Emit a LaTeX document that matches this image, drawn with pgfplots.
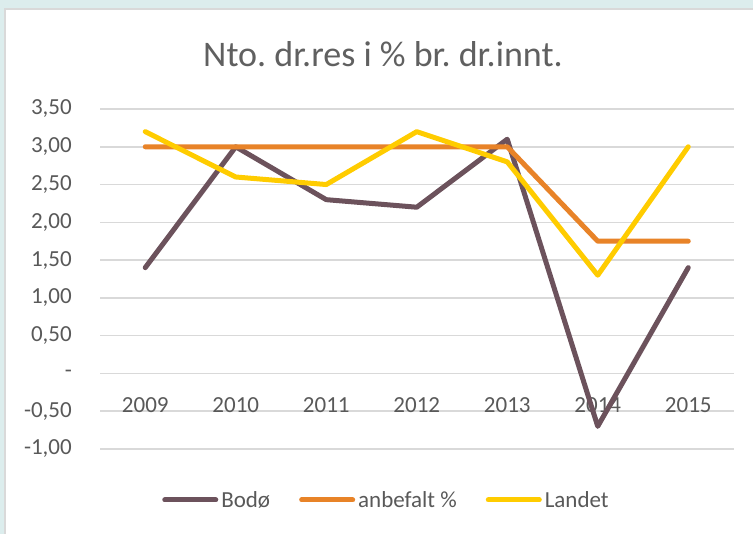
\documentclass[border=0pt]{standalone}
\usepackage{fontspec}
\setmainfont{Carlito}
\usepackage{pgfplots}
\pgfplotsset{compat=1.18}
\definecolor{bodo}{RGB}{108,82,92}
\definecolor{anb}{RGB}{232,131,40}
\definecolor{land}{RGB}{255,204,0}
\definecolor{gridc}{RGB}{217,217,217}
\definecolor{txt}{RGB}{89,89,89}
\definecolor{titc}{RGB}{96,96,96}
\definecolor{outer}{RGB}{220,237,237}
\frenchspacing
\begin{document}
\begin{tikzpicture}
\fill[outer] (0,0) rectangle (753pt,534pt);
\fill[gridc] (4pt,0) rectangle (753pt,526pt);
\fill[white] (6pt,0) rectangle (753pt,524pt);
\begin{axis}[
  scale only axis,
  width=633.5pt, height=340pt,
  at={(100pt,85pt)}, anchor=south west,
  xmin=-0.5, xmax=6.5,
  ymin=-1, ymax=3.5,
  xtick={0,1,2,3,4,5,6},
  xticklabels={2009,2010,2011,2012,2013,2014,2015},
  ytick={-1,-0.5,0,0.5,1,1.5,2,2.5,3,3.5},
  yticklabels={{-1,00},{-0,50},{-\hspace{11pt}},{0,50},{1,00},{1,50},{2,00},{2,50},{3,00},{3,50}},
  axis line style={draw=none},
  tick style={draw=none},
  major tick length=0pt,
  ymajorgrids,
  grid style={gridc, line width=1.5pt},
  xticklabel style={anchor=center, inner sep=0pt, yshift=44pt, font=\fontsize{23}{27}\selectfont, text=txt},
  yticklabel style={anchor=east, inner sep=0pt, xshift=-28pt, font=\fontsize{23}{27}\selectfont, text=txt},
  title={Nto. dr.res i \% br. dr.innt.},
  title style={at={(0.4467,1.144)}, anchor=center, font=\fontsize{36}{40}\selectfont, text=titc, inner sep=0pt},
  clip=false,
  legend columns=3,
  legend style={at={(0.453,-0.15)}, anchor=center, draw=none, fill=none,
    font=\fontsize{23}{27}\selectfont, text=txt, inner sep=0pt, row sep=0pt,
    /tikz/every even column/.append style={column sep=26pt},
    nodes={inner xsep=3pt, inner ysep=0pt}},
  legend image code/.code={\draw[#1] (0pt,0pt) -- (51pt,0pt);},
  every axis plot/.append style={line width=5pt, line cap=round, line join=round},
]
\addplot[bodo] coordinates {(0,1.40) (1,3.00) (2,2.30) (3,2.20) (4,3.10) (5,-0.70) (6,1.40)};
\addlegendentry{Bodø}
\addplot[anb] coordinates {(0,3.00) (1,3.00) (2,3.00) (3,3.00) (4,3.00) (5,1.75) (6,1.75)};
\addlegendentry{anbefalt \%}
\addplot[land] coordinates {(0,3.20) (1,2.60) (2,2.50) (3,3.20) (4,2.80) (5,1.30) (6,3.00)};
\addlegendentry{Landet}
\end{axis}
\end{tikzpicture}
\end{document}
